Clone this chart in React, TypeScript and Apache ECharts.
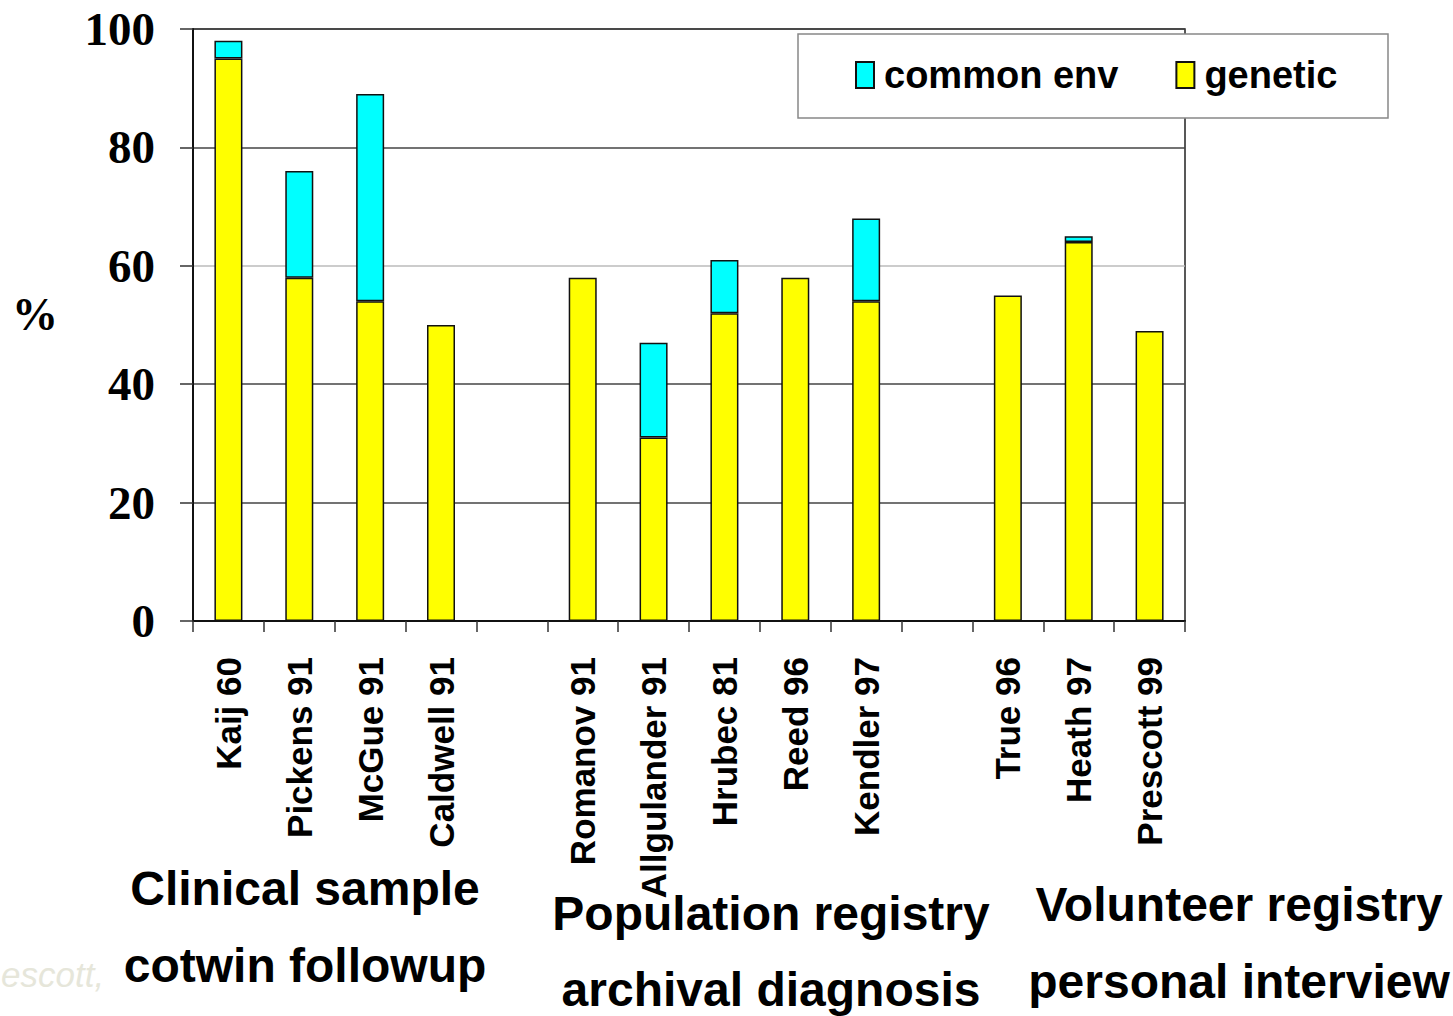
import React, { useEffect, useRef } from 'react';
import * as echarts from 'echarts';

// ---- data ----
const studies = [
  'Kaij 60', 'Pickens 91', 'McGue 91', 'Caldwell 91', '',
  'Romanov 91', 'Allgulander 91', 'Hrubec 81', 'Reed 96', 'Kendler 97', '',
  'True 96', 'Heath 97', 'Prescott 99',
];
const genetic = [95, 58, 54, 50, null, 58, 31, 52, 58, 54, null, 55, 64, 49];
const commonEnv = [3, 18, 35, null, null, null, 16, 9, null, 14, null, null, 1, null];
const yTicks = [0, 20, 40, 60, 80, 100];

const groupLabels = [
  { x: 305, lines: ['Clinical sample', 'cotwin followup'], y: [888, 965] },
  { x: 771, lines: ['Population registry', 'archival diagnosis'], y: [913, 989] },
  { x: 1239, lines: ['Volunteer registry', 'personal interview'], y: [904, 981] },
];

const SANS = '"Liberation Sans", Arial, sans-serif';
const SERIF = '"Liberation Serif", "Times New Roman", serif';

const App: React.FC = () => {
  const chartRef = useRef<HTMLDivElement>(null);

  useEffect(() => {
    if (!chartRef.current) return;
    const chart = echarts.init(chartRef.current, null, { renderer: 'svg' });

    const barStyle = { borderColor: '#111', borderWidth: 1.5 };

    const groupTexts: any[] = [];
    groupLabels.forEach((g) => {
      g.lines.forEach((line, i) => {
        groupTexts.push({
          type: 'text',
          x: g.x,
          y: g.y[i],
          z: 30,
          style: {
            text: line,
            fill: '#000',
            font: `bold 48px ${SANS}`,
            textAlign: 'center',
            textVerticalAlign: 'middle',
          },
        });
      });
    });

    const option: echarts.EChartsOption = {
      animation: false,
      backgroundColor: '#fff',
      grid: {
        left: 193,
        right: 268,
        top: 29,
        bottom: 395,
        show: true,
        borderColor: '#222',
        borderWidth: 1.5,
        backgroundColor: 'transparent',
      },
      legend: {
        data: ['common env', 'genetic'],
        left: 855,
        top: 56,
        padding: 0,
        z: 40,
        itemWidth: 18,
        itemHeight: 26,
        itemGap: 57,
        icon: 'rect',
        textStyle: {
          fontFamily: SANS,
          fontWeight: 'bold',
          fontSize: 38,
          color: '#000',
          padding: [0, 0, 0, 5],
        },
      },
      xAxis: {
        type: 'category',
        data: studies,
        axisLine: { lineStyle: { color: '#111', width: 2 } },
        axisTick: { show: true, interval: 0, length: 11, lineStyle: { color: '#333', width: 1.5 } },
        axisLabel: {
          interval: 0,
          rotate: 90,
          margin: 36,
          color: '#000',
          fontFamily: SANS,
          fontWeight: 'bold',
          fontSize: 35,
        },
      },
      yAxis: {
        type: 'value',
        min: yTicks[0],
        max: yTicks[yTicks.length - 1],
        interval: 20,
        axisLine: { show: true, lineStyle: { color: '#111', width: 2 } },
        axisTick: { show: true, length: 13, lineStyle: { color: '#333', width: 1.5 } },
        axisLabel: {
          margin: 38,
          color: '#000',
          fontFamily: SERIF,
          fontWeight: 'bold',
          fontSize: 47,
        },
        splitLine: {
          show: true,
          lineStyle: { color: ['#111', '#444', '#444', '#bbb', '#444', '#444'], width: 1.5 },
        },
      },
      series: [
        {
          name: 'genetic',
          type: 'bar',
          stack: 'total',
          data: genetic,
          barWidth: 28,
          itemStyle: { color: '#ffff00', ...barStyle },
        },
        {
          name: 'common env',
          type: 'bar',
          stack: 'total',
          data: commonEnv,
          barWidth: 28,
          itemStyle: { color: '#00ffff', ...barStyle },
        },
      ],
      graphic: [
        {
          type: 'rect',
          z: 35,
          shape: { x: 798, y: 34, width: 590, height: 84 },
          style: { fill: '#fff', stroke: '#888', lineWidth: 1.5 },
        },
        {
          type: 'text',
          x: 35,
          y: 314,
          z: 30,
          style: {
            text: '%',
            fill: '#000',
            font: `bold 46px ${SERIF}`,
            textAlign: 'center',
            textVerticalAlign: 'middle',
          },
        },
        {
          type: 'text',
          x: 1,
          y: 974,
          z: 30,
          style: {
            text: 'escott,',
            fill: '#e6e6da',
            font: `italic 35px ${SANS}`,
            textAlign: 'left',
            textVerticalAlign: 'middle',
          },
        },
        ...groupTexts,
      ],
    };

    chart.setOption(option);

    return () => {
      chart.dispose();
    };
  }, []);

  return (
    <div
      ref={chartRef}
      style={{ position: 'absolute', left: 0, top: 0, width: 1453, height: 1016 }}
    />
  );
};

export default App;
